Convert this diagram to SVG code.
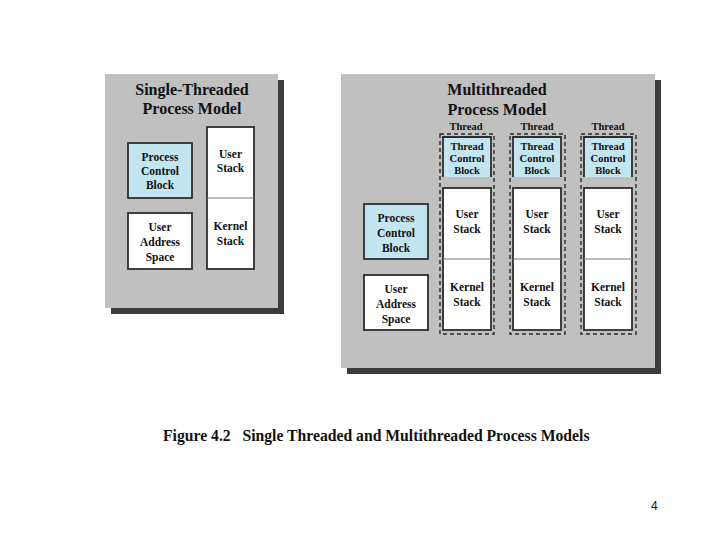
<svg xmlns="http://www.w3.org/2000/svg" width="720" height="540" viewBox="0 0 720 540">
<style>
.shadow{fill:#3c3c3c}
.panel{fill:#c0c0c0}
.box{fill:#ffffff;stroke:#2e2e2e;stroke-width:1.8}
.blue{fill:#c2e5f0;stroke:#2e2e2e;stroke-width:1.8}
.bluefill{fill:#c2e5f0}
.edge{fill:none;stroke:#2e2e2e;stroke-width:1.8}
.div{stroke:#777;stroke-width:1}
.dash{fill:none;stroke:#2a2a2a;stroke-width:1.4;stroke-dasharray:4 3}
.title{font-family:"Liberation Serif",serif;font-weight:bold;font-size:16px;fill:#111}
.t{font-family:"Liberation Serif",serif;font-weight:bold;font-size:11.5px;fill:#111;text-anchor:middle}
.ts{font-family:"Liberation Serif",serif;font-weight:bold;font-size:10.5px;fill:#111;text-anchor:middle}
.cap{font-family:"Liberation Serif",serif;font-weight:bold;font-size:15.7px;fill:#111}
.pg{font-family:"Liberation Sans",sans-serif;font-size:12px;fill:#111}
</style>
<rect width="720" height="540" fill="#ffffff"/>

<g id="single-panel">
<rect class="shadow" x="111" y="80" width="173" height="234"/>
<rect class="panel" x="105" y="74" width="173" height="234"/>
<text class="title" x="192" y="95" text-anchor="middle">Single-Threaded</text>
<text class="title" x="192" y="114" text-anchor="middle">Process Model</text>
</g>
<g id="s-pcb">
<rect class="blue" x="128" y="143" width="64" height="55"/>
<text class="t" x="160" y="161">Process</text>
<text class="t" x="160" y="175">Control</text>
<text class="t" x="160" y="189">Block</text>
</g>
<g id="s-uas">
<rect class="box" x="128" y="213" width="64" height="56"/>
<text class="t" x="160" y="231">User</text>
<text class="t" x="160" y="246">Address</text>
<text class="t" x="160" y="261">Space</text>
</g>
<g id="s-stacks">
<rect class="box" x="207" y="127" width="47" height="142"/>
<line class="div" x1="207" y1="198" x2="254" y2="198"/>
<text class="t" x="230.500" y="158">User</text>
<text class="t" x="230.500" y="172">Stack</text>
<text class="t" x="230.500" y="230">Kernel</text>
<text class="t" x="230.500" y="245">Stack</text>
</g>

<g id="multi-panel">
<rect class="shadow" x="347" y="80" width="314" height="294"/>
<rect class="panel" x="341" y="74" width="314" height="294"/>
<text class="title" x="497" y="95" text-anchor="middle">Multithreaded</text>
<text class="title" x="497" y="115" text-anchor="middle">Process Model</text>
</g>
<g id="m-pcb">
<rect class="blue" x="364" y="204" width="64" height="55"/>
<text class="t" x="396" y="222">Process</text>
<text class="t" x="396" y="237">Control</text>
<text class="t" x="396" y="252">Block</text>
</g>
<g id="m-uas">
<rect class="box" x="364" y="275" width="64" height="55"/>
<text class="t" x="396" y="293">User</text>
<text class="t" x="396" y="308">Address</text>
<text class="t" x="396" y="323">Space</text>
</g>

<g id="thread1">
<text class="ts" x="466" y="130">Thread</text>
<rect class="dash" x="440" y="134" width="54" height="200"/>
<rect class="bluefill" x="443" y="137" width="48" height="40"/>
<path class="edge" d="M443,177 V137 H491 V177"/>
<text class="ts" x="467" y="150">Thread</text>
<text class="ts" x="467" y="162">Control</text>
<text class="ts" x="467" y="174">Block</text>
<rect class="box" x="443" y="188" width="48" height="142"/>
<line class="div" x1="443" y1="259" x2="491" y2="259"/>
<text class="t" x="467" y="218">User</text>
<text class="t" x="467" y="233">Stack</text>
<text class="t" x="467" y="291">Kernel</text>
<text class="t" x="467" y="306">Stack</text>
</g>
<g id="thread2">
<text class="ts" x="537" y="130">Thread</text>
<rect class="dash" x="510" y="134" width="55" height="200"/>
<rect class="bluefill" x="513" y="137" width="48" height="40"/>
<path class="edge" d="M513,177 V137 H561 V177"/>
<text class="ts" x="537" y="150">Thread</text>
<text class="ts" x="537" y="162">Control</text>
<text class="ts" x="537" y="174">Block</text>
<rect class="box" x="513" y="188" width="48" height="142"/>
<line class="div" x1="513" y1="259" x2="561" y2="259"/>
<text class="t" x="537" y="218">User</text>
<text class="t" x="537" y="233">Stack</text>
<text class="t" x="537" y="291">Kernel</text>
<text class="t" x="537" y="306">Stack</text>
</g>
<g id="thread3">
<text class="ts" x="608" y="130">Thread</text>
<rect class="dash" x="581" y="134" width="55" height="200"/>
<rect class="bluefill" x="584" y="137" width="48" height="40"/>
<path class="edge" d="M584,177 V137 H632 V177"/>
<text class="ts" x="608" y="150">Thread</text>
<text class="ts" x="608" y="162">Control</text>
<text class="ts" x="608" y="174">Block</text>
<rect class="box" x="584" y="188" width="48" height="142"/>
<line class="div" x1="584" y1="259" x2="632" y2="259"/>
<text class="t" x="608" y="218">User</text>
<text class="t" x="608" y="233">Stack</text>
<text class="t" x="608" y="291">Kernel</text>
<text class="t" x="608" y="306">Stack</text>
</g>

<g id="connectors"></g>

<g id="caption">
<text class="cap" x="163" y="441" xml:space="preserve">Figure 4.2   Single Threaded and Multithreaded Process Models</text>
</g>
<g id="page">
<text class="pg" x="651" y="510">4</text>
</g>
</svg>
